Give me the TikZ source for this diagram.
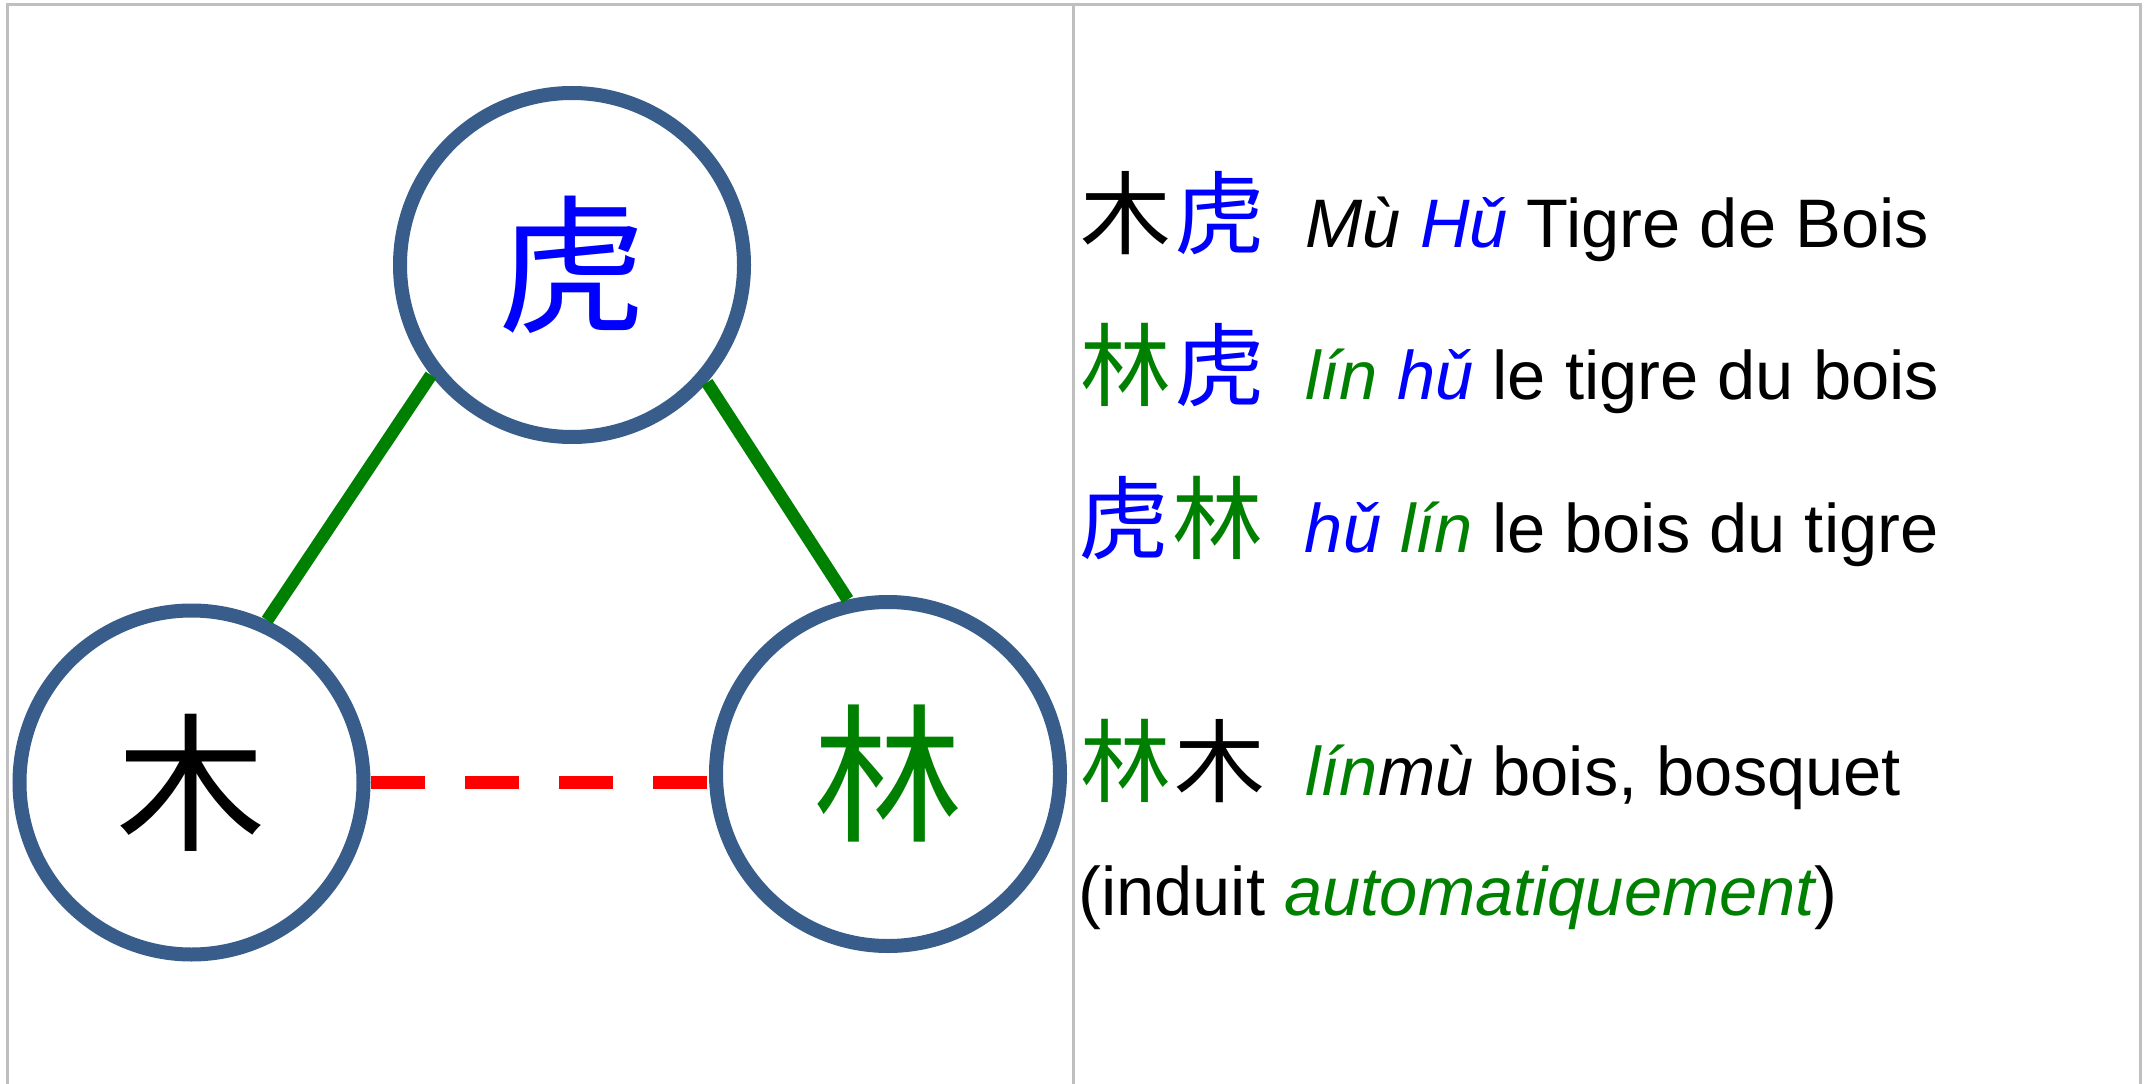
\documentclass[tikz,border=0pt]{standalone}
\usepackage{fontspec}
\setmainfont{Liberation Sans}
\newfontfamily\cjk{Noto Sans CJK SC}
\definecolor{ringblue}{HTML}{385D8A}
\definecolor{pgreen}{RGB}{0,128,0}
\definecolor{pblue}{RGB}{0,0,255}
\definecolor{pred}{RGB}{255,0,0}
\definecolor{framegray}{RGB}{191,191,191}
\begin{document}
\begin{tikzpicture}[x=0.75pt,y=-0.75pt,
  ring/.style={circle,draw=ringblue,fill=white,line width=10.5pt,minimum size=258pt,inner sep=0pt,
    font=\cjk\fontsize{112}{120}\selectfont},
  greenlink/.style={draw=pgreen,line width=9.5pt},
  redlink/.style={draw=pred,line width=9.75pt,dash pattern=on 40.5pt off 30pt},
  frameline/.style={draw=framegray,line width=2.25pt},
  txt/.style={anchor=base west,inner sep=0pt,font=\fontsize{51.5}{60}\selectfont}]
\useasboundingbox (0,0) rectangle (2145,1084);
\draw[frameline] (7.5,1084) -- (7.5,4.5) -- (2140.5,4.5) -- (2140.5,1084);
\draw[frameline] (1073.5,4.5) -- (1073.5,1084);
\node[ring,text=pblue] (hu) at (572,265) {虎};
\node[ring,text=black] (mu) at (191.5,782.5) {木};
\node[ring,text=pgreen] (lin) at (888,774) {林};
\draw[greenlink] (mu.65) -- (hu.218);
\draw[greenlink] (hu.-41) -- (lin.103);
\draw[redlink] (mu.east) -- (mu.east -| lin.west);
\newcommand\zh[1]{{\cjk\fontsize{68}{72}\selectfont #1}}
\node[txt] (l1) at (1080,248) {\zh{木\hspace{3pt}\textcolor{pblue}{虎}}\hspace{30pt}\textit{Mù \textcolor{pblue}{Hǔ}} Tigre de Bois};
\node[txt] (l2) at (1080,399) {\zh{\textcolor{pgreen}{林}\hspace{3pt}\textcolor{pblue}{虎}}\hspace{30pt}\textit{\textcolor{pgreen}{lín} \textcolor{pblue}{hǔ}} le tigre du bois};
\node[txt] (l3) at (1078,552) {\zh{\textcolor{pblue}{虎}\hspace{3pt}\textcolor{pgreen}{林}}\hspace{31pt}\textit{\textcolor{pblue}{hǔ} \textcolor{pgreen}{lín}} le bois du tigre};
\node[txt] (l4) at (1080,795) {\zh{\textcolor{pgreen}{林}\hspace{3pt}木}\hspace{30pt}\textit{\textcolor{pgreen}{lín}mù} bois, bosquet};
\node[txt] (l5) at (1078,915) {(induit \textit{\textcolor{pgreen}{automatiquement}})};
\end{tikzpicture}
\end{document}
